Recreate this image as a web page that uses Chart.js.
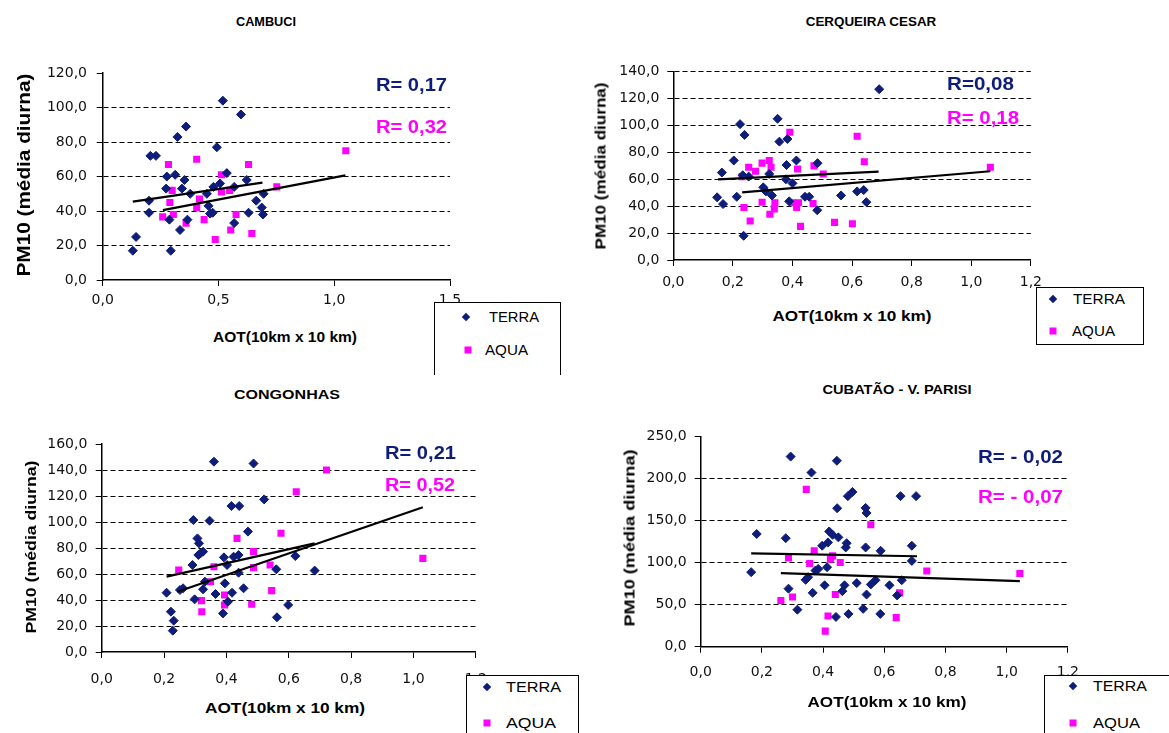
<!DOCTYPE html>
<html>
<head>
<meta charset="utf-8">
<script src="https://cdn.jsdelivr.net/npm/chart.js@4.4.1/dist/chart.umd.min.js"></script>
<style>
  body { margin: 0; background: #fff; width: 1169px; height: 733px; overflow: hidden; position: relative; }
  canvas { position: absolute; }
  .t { position: absolute; white-space: nowrap; line-height: 1; }
  .box { position: absolute; border: 1px solid #000; background: #fff; }
  .dia { position: absolute; width: 6px; height: 6px; background: #0f1d7a; transform: translate(-50%, -50%) rotate(45deg); }
  .sq { position: absolute; width: 7px; height: 7px; background: #ff00ff; transform: translate(-50%, -50%); }
</style>
</head>
<body>
<canvas id="c0" width="440" height="255" style="left:30px;top:55px"></canvas>
<canvas id="c1" width="450" height="245" style="left:600px;top:55px"></canvas>
<canvas id="c2" width="470" height="275" style="left:30px;top:425px"></canvas>
<canvas id="c3" width="460" height="275" style="left:630px;top:420px"></canvas>
<script>
// values: [AOT, PM10]
var stations = ['CAMBUCI', 'CERQUEIRA CESAR', 'CONGONHAS', 'CUBATÃO - V. PARISI'];
var rTerra = ['R= 0,17', 'R=0,08', 'R= 0,21', 'R= - 0,02'];
var rAqua = ['R= 0,32', 'R= 0,18', 'R= 0,52', 'R= - 0,07'];
var seriesNames = ['TERRA', 'AQUA'];
var xMax = [1.5, 1.2, 1.2, 1.2];
var xStep = [0.5, 0.2, 0.2, 0.2];
var yMax = [120, 140, 160, 250];
var yStep = [20, 20, 20, 50];

var cambuciTerra = [[0.13,17],[0.144,25],[0.20,46],[0.20,39],[0.206,72],[0.23,72],[0.274,53],[0.277,60],[0.288,35],[0.294,17],
  [0.313,61],[0.323,83],[0.334,29],[0.342,53],[0.353,58],[0.36,89],[0.366,35],[0.378,50],[0.45,50],[0.457,43],[0.464,38.5],
  [0.475,39],[0.478,54],[0.493,77],[0.507,56],[0.519,104],[0.536,62],[0.568,54],[0.568,33],[0.597,96],[0.622,58],[0.63,39],
  [0.663,46],[0.687,42],[0.692,38],[0.695,50]];
var cambuciAqua = [[0.259,36.6],[0.284,67],[0.29,45],[0.30,52],[0.305,38],[0.36,33],[0.406,70],[0.406,42],[0.418,47],[0.438,35],
  [0.486,23.5],[0.513,61],[0.513,51],[0.548,52],[0.553,29],[0.576,38],[0.63,67],[0.644,27],[0.752,54],[1.05,75]];
var cambuciTerraFit = [[0.13,45.5],[0.69,56.5]];
var cambuciAquaFit = [[0.26,40.5],[1.048,60.7]];

var cerqueiraTerra = [[0.147,46.6],[0.163,65],[0.167,41.6],[0.203,74],[0.213,47],[0.224,101],[0.239,93],[0.236,18],[0.233,63],
  [0.253,62],[0.302,54],[0.311,51],[0.331,48],[0.322,64],[0.35,105],[0.356,88],[0.38,70.6],[0.383,90],[0.378,60],[0.389,43.6],
  [0.4,57],[0.413,74],[0.442,47],[0.456,47],[0.484,72],[0.483,37],[0.563,48],[0.617,51],[0.639,52],[0.648,43],[0.691,127]];
var cerqueiraAqua = [[0.231,62],[0.237,39],[0.253,69],[0.258,29],[0.276,66],[0.298,72],[0.298,43],[0.322,74],[0.328,69],[0.324,34],
  [0.341,42.6],[0.339,38],[0.391,95],[0.4,42.6],[0.417,67.6],[0.414,39],[0.42,42.6],[0.427,25],[0.469,42],[0.472,70],[0.503,64],
  [0.541,28],[0.601,27],[0.617,92],[0.641,73],[1.064,69]];
var cerqueiraTerraFit = [[0.15,60],[0.689,65.7]];
var cerqueiraAquaFit = [[0.231,50.3],[1.064,66]];

var congonhasTerra = [[0.208,45.6],[0.222,31],[0.231,24.1],[0.228,16.4],[0.251,47.7],[0.261,49],[0.294,101.5],[0.291,66.9],
  [0.298,40.5],[0.307,87.4],[0.312,83.6],[0.31,74.6],[0.317,75.9],[0.325,77.2],[0.325,48.2],[0.331,54.1],[0.346,101],[0.36,146.4],
  [0.365,44.6],[0.392,72.8],[0.395,52.8],[0.389,29.7],[0.402,66.9],[0.405,38.7],[0.416,112.3],[0.441,112.3],[0.418,45.6],
  [0.423,73.3],[0.439,74.6],[0.439,61],[0.455,49],[0.469,92.6],[0.487,145],[0.521,117.4],[0.56,63.6],[0.562,26.7],[0.598,36.2],
  [0.621,73.8],[0.683,62.6]];
var congonhasAqua = [[0.247,63.1],[0.32,39.5],[0.321,31],[0.349,54.1],[0.36,65.6],[0.394,43.8],[0.394,36.2],[0.434,87.4],
  [0.481,36.7],[0.487,77.2],[0.487,64.9],[0.54,66.9],[0.545,47.2],[0.575,91.3],[0.624,123.3],[0.721,140],[1.03,72]];
var congonhasTerraFit = [[0.208,58],[0.683,83.6]];
var congonhasAquaFit = [[0.243,46.4],[1.03,111.3]];

var cubataoTerra = [[0.165,88.6],[0.183,134],[0.278,129],[0.294,226],[0.287,69],[0.316,44],[0.343,79.5],[0.351,82.7],[0.362,207],
  [0.366,64],[0.375,90.5],[0.384,92.5],[0.397,120],[0.405,73],[0.413,94.5],[0.416,124],[0.42,137],[0.431,133],[0.442,35.4],
  [0.445,221],[0.446,164.6],[0.45,130],[0.463,66],[0.47,73],[0.474,118],[0.477,123],[0.483,39],[0.481,179],[0.496,184],
  [0.51,75.6],[0.531,45],[0.539,118],[0.539,165],[0.542,159],[0.542,62],[0.556,74],[0.571,79],[0.588,114],[0.587,39],
  [0.617,73],[0.642,61],[0.653,179],[0.657,79],[0.69,120],[0.69,102],[0.704,179]];
var cubataoAqua = [[0.262,55],[0.287,105.5],[0.3,59],[0.345,187],[0.356,99],[0.371,114],[0.407,18.5],[0.416,36.6],[0.424,104],
  [0.431,108],[0.44,62],[0.456,100],[0.556,145],[0.639,34.6],[0.65,64],[0.739,90],[1.043,87]];
var cubataoTerraFit = [[0.165,111],[0.707,107.5]];
var cubataoAquaFit = [[0.262,87.4],[1.043,78]];

var terraSets = [cambuciTerra, cerqueiraTerra, congonhasTerra, cubataoTerra];
var aquaSets = [cambuciAqua, cerqueiraAqua, congonhasAqua, cubataoAqua];
var terraFits = [cambuciTerraFit, cerqueiraTerraFit, congonhasTerraFit, cubataoTerraFit];
var aquaFits = [cambuciAquaFit, cerqueiraAquaFit, congonhasAquaFit, cubataoAquaFit];

var NAVY = '#0f1d7a', MAG = '#ff00ff';

// plot frame of each canvas (padding, axis box sizes)
var frames = [
  { pt: 18, pr: 20, yw: 72.7, xh: 30, xpad: 6, ypad: 9.7, topGrid: false },
  { pt: 16.7, pr: 17, yw: 73.3, xh: 40, xpad: 8, ypad: 8, topGrid: true },
  { pt: 19, pr: 20, yw: 71.7, xh: 48, xpad: 13, ypad: 8.4, topGrid: false },
  { pt: 15, pr: 18, yw: 70.7, xh: 48.3, xpad: 11, ypad: 8, topGrid: false }
];

function fmt(v) { return Number(v).toFixed(1).replace('.', ','); }
function pts(a) { return a.map(function (p) { return { x: p[0], y: p[1] }; }); }

function makeChart(i) {
  var f = frames[i];
  var tickFont = { family: 'DejaVu Sans', size: 14 };
  new Chart(document.getElementById('c' + i), {
    type: 'scatter',
    data: {
      datasets: [
        { data: pts(terraFits[i]), showLine: true, borderColor: '#000', borderWidth: 2.2, pointRadius: 0, order: 0 },
        { data: pts(aquaFits[i]), showLine: true, borderColor: '#000', borderWidth: 2.2, pointRadius: 0, order: 0 },
        { label: seriesNames[0], data: pts(terraSets[i]), pointStyle: 'rectRot', pointRadius: 4.5,
          backgroundColor: NAVY, borderColor: NAVY, borderWidth: 1, order: 1 },
        { label: seriesNames[1], data: pts(aquaSets[i]), pointStyle: 'rect', pointRadius: 5,
          backgroundColor: MAG, borderColor: MAG, borderWidth: 0, order: 1 }
      ]
    },
    options: {
      responsive: false,
      animation: false,
      events: [],
      layout: { autoPadding: false, padding: { top: f.pt, right: f.pr, left: 0, bottom: 0 } },
      plugins: { legend: { display: false }, tooltip: { enabled: false } },
      scales: {
        x: {
          type: 'linear', min: 0, max: xMax[i],
          ticks: { stepSize: xStep[i], callback: fmt, font: tickFont, color: '#111', padding: f.xpad, maxRotation: 0, autoSkip: false },
          grid: { drawOnChartArea: false, tickLength: 6, tickColor: '#000', color: '#000' },
          border: { color: '#000', width: 1.5 },
          afterFit: function (s) { s.height = f.xh; }
        },
        y: {
          type: 'linear', min: 0, max: yMax[i],
          ticks: { stepSize: yStep[i], callback: fmt, font: tickFont, color: '#111', padding: f.ypad },
          grid: {
            color: function (c) {
              var v = c.tick ? c.tick.value : 0;
              if (v === 0 || (v === yMax[i] && !f.topGrid)) return 'rgba(0,0,0,0)';
              return '#000';
            },
            tickColor: '#000', tickLength: 6, lineWidth: 1
          },
          border: { color: '#000', width: 1.5, dash: [5, 3] },
          afterFit: function (s) { s.width = f.yw; }
        }
      }
    }
  });
}

for (var i = 0; i < 4; i++) makeChart(i);

// text overlays
var mctx = document.createElement('canvas').getContext('2d');
function text(str, x, y, o) {
  var el = document.createElement('div');
  el.className = 't';
  el.textContent = str;
  var font = (o.bold ? 'bold ' : '') + o.size + 'px "Liberation Sans", Arial, sans-serif';
  el.style.font = font;
  el.style.color = o.color || '#000';
  mctx.font = font;
  var sx = o.width ? o.width / mctx.measureText(str).width : 1;
  el.style.left = x + 'px';
  el.style.top = y + 'px';
  var tr;
  if (o.left) {
    el.style.transformOrigin = 'left center';
    tr = 'translate(0,-50%) scaleX(' + sx + ')';
  } else {
    tr = 'translate(-50%,-50%)' + (o.rotate ? ' rotate(-90deg)' : '') + ' scaleX(' + sx + ')';
  }
  el.style.transform = tr;
  document.body.appendChild(el);
}

var titlePos = [[266, 22, 60], [871, 22, 131], [287, 395, 106], [897, 390, 149]];
var yLabPos = [[24, 175, 203, 19], [600, 166, 167, 15], [29.5, 547, 173, 15], [629, 538, 177, 15]];
var xLabPos = [[285, 337, 144], [852, 316, 159], [285, 708, 160], [887, 702, 159]];
var rPos = [[376, 85, 127, 71, 71], [947, 84, 118, 67, 72], [385, 453, 485, 71, 70], [978, 457, 497, 85, 85]];

for (var k = 0; k < 4; k++) {
  text(stations[k], titlePos[k][0], titlePos[k][1], { bold: true, size: 12, width: titlePos[k][2] });
  text('PM10 (média diurna)', yLabPos[k][0], yLabPos[k][1], { bold: true, size: yLabPos[k][3], width: yLabPos[k][2], rotate: true });
  text('AOT(10km x 10 km)', xLabPos[k][0], xLabPos[k][1], { bold: true, size: 14, width: xLabPos[k][2] });
  text(rTerra[k], rPos[k][0], rPos[k][1], { bold: true, size: 18, width: rPos[k][3], color: NAVY, left: true });
  text(rAqua[k], rPos[k][0], rPos[k][2], { bold: true, size: 18, width: rPos[k][4], color: MAG, left: true });
}

// legends: box [left, top, width, height, bottomBorder], markers/labels
var legends = [
  { box: [434, 302, 125, 72, false], dia: [466, 317], sq: [468, 350], t1: [489, 50], t2: [485, 43] },
  { box: [1036, 287, 106, 56, true], dia: [1053, 299], sq: [1053, 331], t1: [1073, 52], t2: [1072, 43] },
  { box: [466, 675, 111, 70, false], dia: [487, 687], sq: [487, 723], t1: [506, 55], t2: [506, 50] },
  { box: [1044, 675, 140, 70, false], dia: [1073, 686], sq: [1073, 723], t1: [1093, 54], t2: [1093, 47] }
];
legends.forEach(function (l) {
  var b = document.createElement('div');
  b.className = 'box';
  b.style.left = l.box[0] + 'px'; b.style.top = l.box[1] + 'px';
  b.style.width = l.box[2] + 'px'; b.style.height = l.box[3] + 'px';
  if (!l.box[4]) b.style.borderBottom = 'none';
  document.body.appendChild(b);
  var d = document.createElement('div');
  d.className = 'dia'; d.style.left = l.dia[0] + 'px'; d.style.top = l.dia[1] + 'px';
  document.body.appendChild(d);
  var s = document.createElement('div');
  s.className = 'sq'; s.style.left = l.sq[0] + 'px'; s.style.top = l.sq[1] + 'px';
  document.body.appendChild(s);
  text(seriesNames[0], l.t1[0], l.dia[1], { size: 14, width: l.t1[1], left: true });
  text(seriesNames[1], l.t2[0], l.sq[1], { size: 14, width: l.t2[1], left: true });
});
</script>
</body>
</html>
